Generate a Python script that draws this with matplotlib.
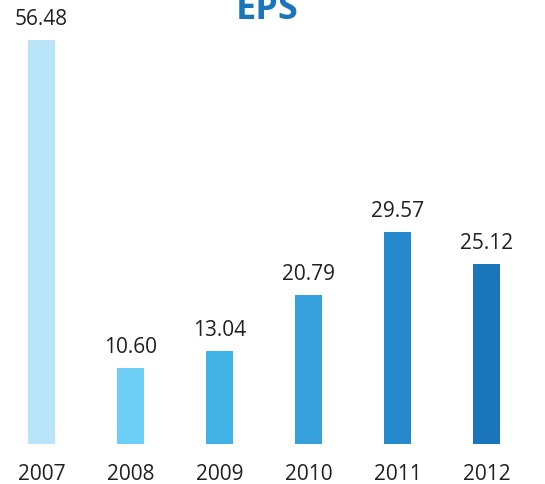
import matplotlib.pyplot as plt

years = ['2007', '2008', '2009', '2010', '2011', '2012']
eps = [56.48, 10.60, 13.04, 20.79, 29.57, 25.12]
colors = ['#BAE4F8', '#6DCFF6', '#41B2E5', '#36A0DA', '#2589CC', '#1B75BB']

plt.rcParams['font.family'] = ['Open Sans', 'DejaVu Sans']

fig = plt.figure(figsize=(5.45, 4.85), dpi=100)
ax = fig.add_axes([0, 40 / 485, 1, 445 / 485])
x = list(range(len(years)))
ax.bar(x, eps, width=0.303, color=colors)
ax.set_xlim(-0.466, 5.657)
ax.set_ylim(0, 62.2)
ax.axis('off')

# value labels above bars, year labels under the baseline
for xi, v in zip(x, eps):
    ax.annotate(f'{v:.2f}', (xi, v), xytext=(0, 8), textcoords='offset points',
                ha='center', va='bottom', fontsize=15, color='#231F20')
for xi, y in zip(x, years):
    ax.annotate(y, (xi, 0), xytext=(0, -21), textcoords='offset points',
                ha='center', va='center', fontsize=15, color='#231F20')

fig.text(267 / 545, 1 - 19 / 485, 'EPS', ha='center', va='baseline',
         fontsize=26, fontweight='bold', color='#1B75BB')

fig.savefig('out.png', dpi=100)
